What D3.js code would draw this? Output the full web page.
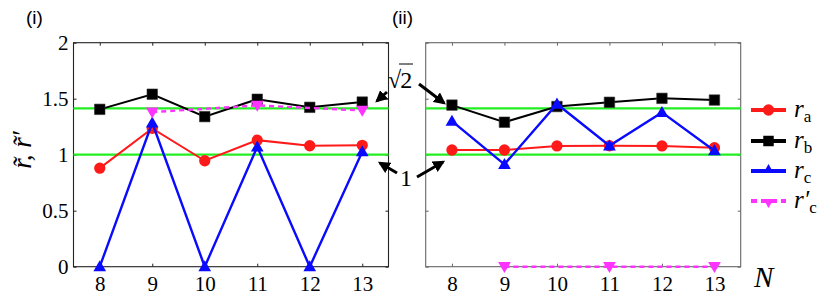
<!DOCTYPE html>
<html><head><meta charset="utf-8">
<script src="https://cdn.jsdelivr.net/npm/d3@7"></script>
<style>body{margin:0;background:#fff}svg{display:block}</style>
</head><body>
<svg id="c" width="830" height="298"></svg>
<script>
const N = [8, 9, 10, 11, 12, 13];
const Nodd = [9, 11, 13];
const yTicks = [0, 0.5, 1, 1.5, 2];
const yTickLabels = ["0", "0.5", "1", "1.5", "2"];
const refLines = [1, Math.SQRT2];
// panel (i)
const ra1 = [0.88, 1.235, 0.946, 1.13, 1.08, 1.084];
const rb1 = [1.405, 1.54, 1.34, 1.495, 1.423, 1.47];
const rc1 = [0, 1.285, 0, 1.07, 0, 1.027];
const rcp1 = [1.38, 1.44, 1.395];
// panel (ii)
const ra2 = [1.042, 1.042, 1.078, 1.08, 1.078, 1.063];
const rb2 = [1.443, 1.29, 1.43, 1.468, 1.503, 1.488];
const rc2 = [1.30, 0.914, 1.453, 1.08, 1.378, 1.036];
const rcp2 = [0, 0, 0];

const svg = d3.select("#c");
const W = 315, H = 224, TOP = 42.7;
const x = d3.scaleLinear().domain([7.5, 13.5]).range([0, W]);
const y = d3.scaleLinear().domain([0, 2]).range([H, 0]);
const serif = "Liberation Serif, DejaVu Serif, serif";
const sans = "Liberation Sans, Arial, sans-serif";
const RED = "#ff1a1a", BLK = "#000", BLU = "#0a0aff", MAG = "#ff33ff", GRN = "#22ee22";

const sym = {
  circle: d3.symbol().type(d3.symbolCircle).size(100),
  square: d3.symbol().type(d3.symbolSquare).size(110),
  tri: d3.symbol().type(d3.symbolTriangle).size(70),
};

function series(g, xs, ys, color, kind, width, dash) {
  const line = d3.line().x((d, i) => x(xs[i])).y(d => y(d));
  g.append("path").attr("d", line(ys)).attr("fill", "none").attr("stroke", color)
    .attr("stroke-width", width).attr("stroke-dasharray", dash || null);
  ys.forEach((v, i) => {
    const p = g.append("path").attr("fill", color);
    if (kind === "circle") p.attr("d", sym.circle()).attr("transform", `translate(${x(xs[i])},${y(v)})`);
    else if (kind === "square") p.attr("d", sym.square()).attr("stroke", "#333").attr("stroke-width", 0.6)
      .attr("transform", `translate(${x(xs[i])},${y(v)})`);
    else p.attr("d", sym.tri()).attr("transform", `translate(${x(xs[i])},${y(v) + (kind === "down" ? -1 : 1)})` + (kind === "down" ? " rotate(180)" : ""));
  });
}

function panel(ox, data, showY, frameColor) {
  const g = svg.append("g").attr("transform", `translate(${ox},${TOP})`);
  g.append("rect").attr("width", W).attr("height", H).attr("fill", "none")
    .attr("stroke", frameColor).attr("stroke-width", 1.1);
  const ax = g.append("g").call(d3.axisLeft(y).tickValues(yTicks).tickSizeInner(-3).tickSizeOuter(0)
    .tickFormat((d, i) => showY ? yTickLabels[i] : ""));
  ax.attr("font-family", serif).attr("font-size", 21);
  ax.select(".domain").remove();
  ax.selectAll("line").attr("stroke", frameColor);
  ax.selectAll("text").attr("fill", "#000").attr("x", -5).attr("dy", "0.33em");
  const axR = g.append("g").attr("transform", `translate(${W},0)`)
    .call(d3.axisRight(y).tickValues(yTicks).tickSizeInner(-3).tickSizeOuter(0).tickFormat(""));
  axR.select(".domain").remove(); axR.selectAll("line").attr("stroke", frameColor);
  const axB = g.append("g").attr("transform", `translate(0,${H})`)
    .call(d3.axisBottom(x).tickValues(N).tickSizeInner(-3).tickSizeOuter(0).tickFormat(d3.format("d")));
  axB.attr("font-family", serif).attr("font-size", 21);
  axB.select(".domain").remove(); axB.selectAll("line").attr("stroke", frameColor);
  axB.selectAll("text").attr("fill", "#000").attr("y", 9).attr("dy", "0.71em");
  const axT = g.append("g").call(d3.axisTop(x).tickValues(N).tickSizeInner(-3).tickSizeOuter(0).tickFormat(""));
  axT.select(".domain").remove(); axT.selectAll("line").attr("stroke", frameColor);
  refLines.forEach(v => g.append("line").attr("x1", 0).attr("x2", W)
    .attr("y1", y(v)).attr("y2", y(v)).attr("stroke", GRN).attr("stroke-width", 2.2));
  const s = g.append("g");
  series(s, N, data.ra, RED, "circle", 2);
  series(s, N, data.rb, BLK, "square", 2);
  series(s, N, data.rc, BLU, "up", 2.4);
  series(s, Nodd, data.rcp, MAG, "down", 2.4, "5,4");
  return g;
}

panel(73.5, {ra: ra1, rb: rb1, rc: rc1, rcp: rcp1}, true, "#222");
panel(425.7, {ra: ra2, rb: rb2, rc: rc2, rcp: rcp2}, false, "#666");

svg.append("text").attr("x", 26).attr("y", 24).text("(i)")
  .attr("font-family", sans).attr("font-size", 19);
svg.append("text").attr("x", 392).attr("y", 24).text("(ii)")
  .attr("font-family", sans).attr("font-size", 19);

svg.append("text").attr("transform", "translate(31,150) rotate(-90)").attr("text-anchor", "middle")
  .attr("font-family", serif).attr("font-style", "italic").attr("font-size", 27)
  .text("r\u0303, r\u0303\u2032");

svg.append("text").attr("x", 754).attr("y", 287).attr("font-family", serif)
  .attr("font-style", "italic").attr("font-size", 29).text("N");

const defs = svg.append("defs");
defs.append("marker").attr("id", "ah").attr("viewBox", "0 0 10 10").attr("refX", 8).attr("refY", 5)
  .attr("markerWidth", 4).attr("markerHeight", 4).attr("orient", "auto")
  .append("path").attr("d", "M0,0 L10,5 L0,10 z").attr("fill", "#000");
const arrows = [[387, 92, 377, 101], [419, 84, 444, 103], [397, 173, 380, 163], [417, 177, 443, 162]];
arrows.forEach(a => svg.append("line").attr("x1", a[0]).attr("y1", a[1]).attr("x2", a[2]).attr("y2", a[3])
  .attr("stroke", "#000").attr("stroke-width", 3).attr("marker-end", "url(#ah)"));
const s2 = svg.append("text").attr("x", 388).attr("y", 88).attr("font-family", serif).attr("font-size", 24);
s2.append("tspan").text("\u221A");
s2.append("tspan").attr("dx", -1).text("2");
svg.append("line").attr("x1", 399).attr("x2", 413).attr("y1", 64).attr("y2", 64).attr("stroke", "#000").attr("stroke-width", 1);
svg.append("text").attr("x", 400).attr("y", 186).attr("font-family", serif).attr("font-size", 24).text("1");

const leg = [
  {lab: "a", prime: false, c: RED, kind: "circle", dash: null},
  {lab: "b", prime: false, c: BLK, kind: "square", dash: null},
  {lab: "c", prime: false, c: BLU, kind: "up", dash: null},
  {lab: "c", prime: true, c: MAG, kind: "down", dash: "6,4"},
];
const legY = [110, 141, 171, 201];
leg.forEach((d, i) => {
  const g = svg.append("g").attr("transform", `translate(751,${legY[i]})`);
  g.append("line").attr("x1", 0).attr("x2", 35).attr("stroke", d.c).attr("stroke-width", 4).attr("stroke-dasharray", d.dash);
  const m = g.append("path").attr("fill", d.c);
  if (d.kind === "circle") m.attr("d", sym.circle()).attr("transform", "translate(17.5,0)");
  else if (d.kind === "square") m.attr("d", sym.square()).attr("transform", "translate(17.5,0)");
  else m.attr("d", d3.symbol().type(d3.symbolTriangle).size(45)()).attr("transform", d.kind === "down" ? "translate(17.5,1) rotate(180)" : "translate(17.5,-1)");
  const t = g.append("text").attr("x", 43).attr("y", 7).attr("font-family", serif).attr("font-size", 25);
  t.append("tspan").attr("font-style", "italic").text(d.prime ? "r\u2032" : "r");
  t.append("tspan").attr("font-size", 17).attr("dy", 5).text(d.lab);
});
</script>
</body></html>
